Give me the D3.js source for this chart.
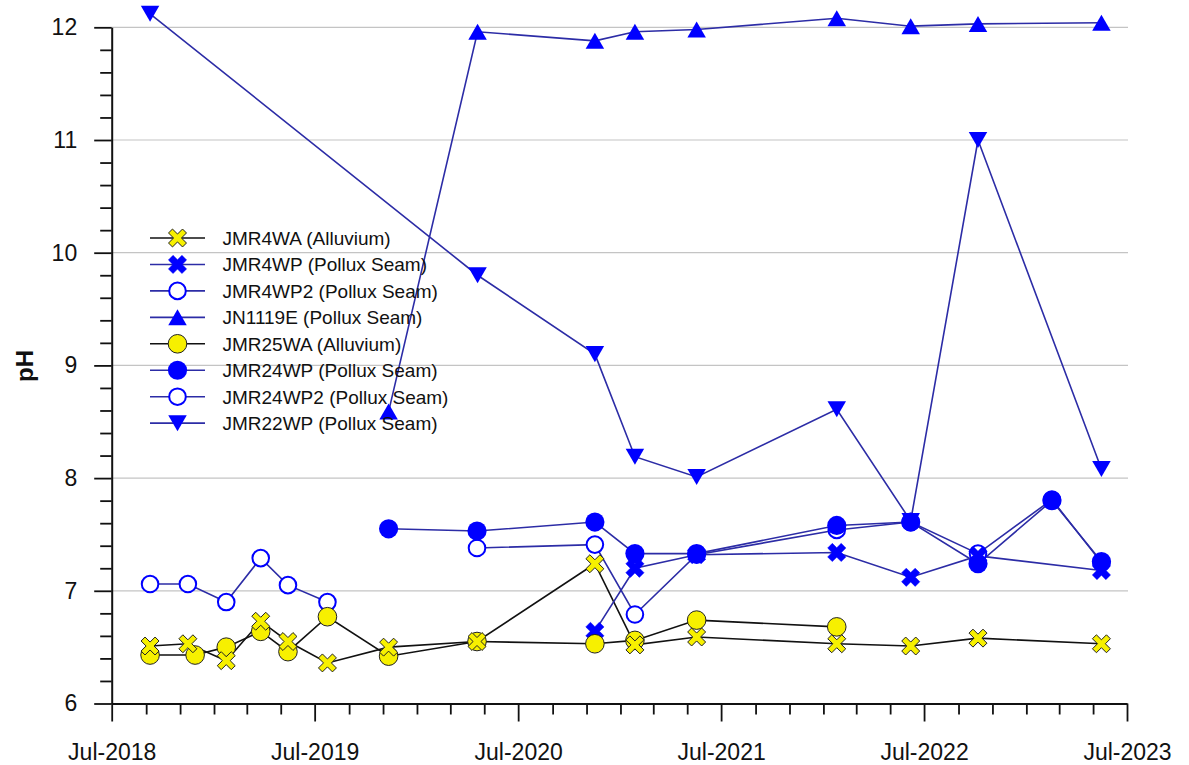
<!DOCTYPE html>
<html><head><meta charset="utf-8">
<script src="https://cdn.jsdelivr.net/npm/d3@7"></script>
<style>
body{margin:0;background:#fff}
svg{display:block}
text{font-family:"Liberation Sans",Arial,sans-serif;fill:#111}
</style>
</head><body>
<svg id="chart" width="1189" height="765"></svg>
<script>
// ---------------- DATA ----------------
const seriesNames = ["JMR4WA (Alluvium)","JMR4WP (Pollux Seam)","JMR4WP2 (Pollux Seam)","JN1119E (Pollux Seam)","JMR25WA (Alluvium)","JMR24WP (Pollux Seam)","JMR24WP2 (Pollux Seam)","JMR22WP (Pollux Seam)"];

const jmr4waDates = ["2018-09-08","2018-11-15","2019-01-23","2019-03-26","2019-05-14","2019-07-24","2019-11-11","2020-04-18","2020-11-16","2021-01-27","2021-05-18","2022-01-25","2022-06-07","2022-10-06","2023-05-16"];
const jmr4waPH    = [6.51,6.53,6.38,6.73,6.55,6.36,6.50,6.55,7.24,6.52,6.59,6.53,6.51,6.58,6.53];

const jmr4wpDates = ["2020-11-16","2021-01-27","2021-05-18","2022-01-25","2022-06-07","2022-10-06","2023-05-16"];
const jmr4wpPH    = [6.64,7.20,7.32,7.34,7.12,7.31,7.18];

const jmr4wp2Dates = ["2018-09-08","2018-11-15","2019-01-23","2019-03-26","2019-05-14","2019-07-24"];
const jmr4wp2PH    = [7.06,7.06,6.90,7.29,7.05,6.90];

const jn1119eDates = ["2019-11-11","2020-04-19","2020-11-16","2021-01-27","2021-05-18","2022-01-25","2022-06-07","2022-10-06","2023-05-16"];
const jn1119ePH    = [8.59,11.96,11.88,11.96,11.98,12.08,12.01,12.03,12.04];

const jmr25waDates = ["2018-09-08","2018-11-28","2019-01-23","2019-03-26","2019-05-14","2019-07-24","2019-11-11","2020-04-18","2020-11-16","2021-01-27","2021-05-18","2022-01-25"];
const jmr25waPH    = [6.43,6.43,6.50,6.64,6.46,6.77,6.42,6.55,6.53,6.56,6.74,6.68];

const jmr24wpDates = ["2019-11-11","2020-04-18","2020-11-16","2021-01-27","2021-05-18","2022-01-25","2022-06-07","2022-10-06","2023-02-16","2023-05-16"];
const jmr24wpPH    = [7.55,7.53,7.61,7.33,7.33,7.58,7.61,7.24,7.80,7.26];

const jmr24wp2Dates = ["2020-04-18","2020-11-16","2021-01-27","2021-05-18","2022-01-25","2022-06-07","2022-10-06","2023-02-16","2023-05-16"];
const jmr24wp2PH    = [7.38,7.41,6.79,7.32,7.54,7.61,7.33,7.81,7.25];

const jmr22wpDates = ["2018-09-08","2020-04-19","2020-11-16","2021-01-27","2021-05-18","2022-01-25","2022-06-07","2022-10-06","2023-05-16"];
const jmr22wpPH    = [12.12,9.80,9.10,8.19,8.01,8.61,7.62,11.00,8.08];

const xMajorTicks = ["2018-07-01","2019-07-01","2020-07-01","2021-07-01","2022-07-01","2023-07-01"];
const yMajorTicks = [6,7,8,9,10,11,12];
const yAxisTitle = "pH";

// ---------------- CHART ----------------
const parse = d3.timeParse("%Y-%m-%d");
const svg = d3.select("#chart");
const X0 = 111.7, X1 = 1127, Y0 = 703.5, Y1 = 27.3;

const x = d3.scaleTime().domain([parse(xMajorTicks[0]), parse(xMajorTicks[xMajorTicks.length-1])]).range([X0, X1]);
const y = d3.scaleLinear().domain([6, 12]).range([Y0, Y1]);

const BLUE = "#0000ff", BLUE_LINE = "#2c2ca6", YEL = "#f7f000";

function xPath(a, b){
  const pts = [[b,b],[a,b],[a,-b],[b,-b],[b,-a],[-b,-a],[-b,-b],[-a,-b],[-a,b],[-b,b],[-b,a],[b,a]];
  const c = Math.SQRT1_2;
  return "M" + pts.map(p => [(p[0]-p[1])*c, (p[0]+p[1])*c].map(v=>v.toFixed(2)).join(",")).join("L") + "Z";
}
function triPath(up, s){
  const h = s*Math.sqrt(3)/2;
  return up ? `M0,${-h/2}L${s/2},${h/2}L${-s/2},${h/2}Z` : `M0,${h/2}L${s/2},${-h/2}L${-s/2},${-h/2}Z`;
}
const markers = {
  yx:   g => g.append("path").attr("d", xPath(9.9, 2.8)).attr("fill", YEL).attr("stroke", "#222").attr("stroke-width", 1),
  bx:   g => g.append("path").attr("d", xPath(9.6, 3.3)).attr("fill", BLUE).attr("stroke", BLUE).attr("stroke-width", 0.5),
  oc:   g => g.append("circle").attr("r", 8.3).attr("fill", "#fff").attr("stroke", BLUE).attr("stroke-width", 2),
  up:   g => g.append("path").attr("d", triPath(true, 18.5)).attr("fill", BLUE),
  yc:   g => g.append("circle").attr("r", 9.3).attr("fill", YEL).attr("stroke", "#222").attr("stroke-width", 1),
  fc:   g => g.append("circle").attr("r", 9.6).attr("fill", BLUE),
  down: g => g.append("path").attr("d", triPath(false, 18.5)).attr("fill", BLUE)
};

const series = [
  {name: seriesNames[0], dates: jmr4waDates,  vals: jmr4waPH,  mk: "yx",   line: "#111"},
  {name: seriesNames[1], dates: jmr4wpDates,  vals: jmr4wpPH,  mk: "bx",   line: BLUE_LINE},
  {name: seriesNames[2], dates: jmr4wp2Dates, vals: jmr4wp2PH, mk: "oc",   line: BLUE_LINE},
  {name: seriesNames[3], dates: jn1119eDates, vals: jn1119ePH, mk: "up",   line: BLUE_LINE},
  {name: seriesNames[4], dates: jmr25waDates, vals: jmr25waPH, mk: "yc",   line: "#111"},
  {name: seriesNames[5], dates: jmr24wpDates, vals: jmr24wpPH, mk: "fc",   line: BLUE_LINE},
  {name: seriesNames[6], dates: jmr24wp2Dates,vals: jmr24wp2PH,mk: "oc",   line: BLUE_LINE},
  {name: seriesNames[7], dates: jmr22wpDates, vals: jmr22wpPH, mk: "down", line: BLUE_LINE}
];
series.forEach(s => s.pts = s.dates.map((d,i) => ({d: parse(d), v: s.vals[i]})));

// gridlines
svg.append("g").selectAll("line").data(yMajorTicks.filter(v => v > 6)).join("line")
  .attr("x1", X0).attr("x2", X1 + 1).attr("y1", d => y(d)).attr("y2", d => y(d))
  .attr("stroke", "#c4c4c4").attr("stroke-width", 1.2);

// x axis minor
const minorDates = d3.timeMonth.every(2).range(x.domain()[0], d3.timeDay.offset(x.domain()[1], 1)).filter(d => d.getMonth() !== 6);
svg.append("g").attr("transform", `translate(0,${Y0})`)
  .call(d3.axisBottom(x).tickValues(minorDates).tickSize(11).tickSizeOuter(0).tickFormat(""))
  .call(g => g.select(".domain").remove())
  .call(g => g.selectAll("line").attr("stroke", "#111").attr("stroke-width", 1.8));
// x axis major
svg.append("g").attr("transform", `translate(0,${Y0})`)
  .call(d3.axisBottom(x).tickValues(xMajorTicks.map(parse)).tickSize(18).tickSizeOuter(0).tickPadding(22).tickFormat(d3.timeFormat("%b-%Y")))
  .call(g => g.select(".domain").attr("stroke", "#111").attr("stroke-width", 2))
  .call(g => g.selectAll("line").attr("stroke", "#111").attr("stroke-width", 1.8))
  .call(g => g.selectAll("text").attr("font-size", 23).attr("font-family", '"Liberation Sans",Arial,sans-serif').attr("fill", "#111"));

// y axis minor
const yMinor = d3.range(6, 12.001, 0.2).filter(v => Math.abs(v - Math.round(v)) > 0.01);
svg.append("g").attr("transform", `translate(${X0},0)`)
  .call(d3.axisLeft(y).tickValues(yMinor).tickSize(11.5).tickSizeOuter(0).tickFormat(""))
  .call(g => g.select(".domain").remove())
  .call(g => g.selectAll("line").attr("stroke", "#111").attr("stroke-width", 1.8));
// y axis major
svg.append("g").attr("transform", `translate(${X0},0)`)
  .call(d3.axisLeft(y).tickValues(yMajorTicks).tickSize(17.5).tickSizeOuter(0).tickPadding(17).tickFormat(d3.format("d")))
  .call(g => g.select(".domain").attr("stroke", "#111").attr("stroke-width", 2))
  .call(g => g.selectAll("line").attr("stroke", "#111").attr("stroke-width", 1.8))
  .call(g => g.selectAll("text").attr("font-size", 23).attr("font-family", '"Liberation Sans",Arial,sans-serif').attr("fill", "#111"));

// y title
svg.append("text").attr("transform", `translate(33,366) rotate(-90)`)
  .attr("text-anchor", "middle").attr("font-size", 24).attr("font-weight", "bold").text(yAxisTitle);

// lines
const line = d3.line().x(d => x(d.d)).y(d => y(d.v));
series.forEach(s => {
  svg.append("path").datum(s.pts).attr("d", line).attr("fill", "none")
    .attr("stroke", s.line).attr("stroke-width", 1.6);
});

// markers (draw order to mimic overlaps)
const drawOrder = [7, 3, 2, 6, 1, 5, 4, 0];
drawOrder.forEach(i => {
  const s = series[i];
  s.pts.forEach(p => {
    const g = svg.append("g").attr("transform", `translate(${x(p.d)},${y(p.v)})`);
    markers[s.mk](g);
  });
});

// legend
const LX0 = 150, LX1 = 205, LTX = 222.5, LY = 238, LDY = 26.45;
series.forEach((s, i) => {
  const yy = LY + i * LDY;
  svg.append("line").attr("x1", LX0).attr("x2", LX1).attr("y1", yy).attr("y2", yy)
    .attr("stroke", s.line).attr("stroke-width", 1.6);
  markers[s.mk](svg.append("g").attr("transform", `translate(${(LX0 + LX1) / 2},${yy})`));
  svg.append("text").attr("x", LTX).attr("y", yy + 7).attr("font-size", 19).attr("fill", "#222").text(s.name);
});
</script>
</body></html>
